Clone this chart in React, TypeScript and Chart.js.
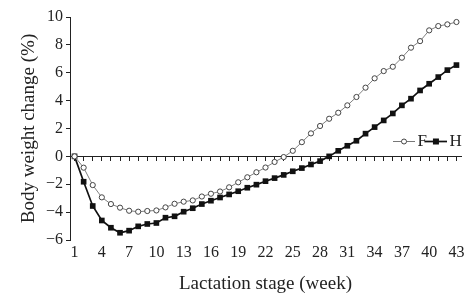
import React, { useEffect, useRef } from "react";
import { Chart, registerables } from "chart.js";

Chart.register(...registerables);

const weeks = [1, 2, 3, 4, 5, 6, 7, 8, 9, 10, 11, 12, 13, 14, 15, 16, 17, 18, 19, 20, 21, 22, 23, 24, 25, 26, 27, 28, 29, 30, 31, 32, 33, 34, 35, 36, 37, 38, 39, 40, 41, 42, 43];
const xTickLabels = ["1", "4", "7", "10", "13", "16", "19", "22", "25", "28", "31", "34", "37", "40", "43"];
const yTickValues = [-6, -4, -2, 0, 2, 4, 6, 8, 10];

const seriesF = [0, -0.81, -2.06, -2.94, -3.42, -3.68, -3.9, -3.97, -3.92, -3.88, -3.66, -3.4, -3.25, -3.16, -2.88, -2.68, -2.52, -2.22, -1.86, -1.5, -1.14, -0.8, -0.4, -0.05, 0.4, 1.02, 1.65, 2.18, 2.7, 3.13, 3.66, 4.26, 4.93, 5.6, 6.12, 6.43, 7.08, 7.8, 8.27, 9.04, 9.35, 9.47, 9.64];
const seriesH = [0, -1.82, -3.56, -4.6, -5.12, -5.48, -5.33, -5.02, -4.85, -4.78, -4.4, -4.3, -3.97, -3.72, -3.42, -3.18, -2.95, -2.73, -2.5, -2.25, -2.03, -1.78, -1.56, -1.33, -1.07, -0.84, -0.58, -0.34, 0, 0.4, 0.76, 1.12, 1.63, 2.1, 2.58, 3.08, 3.66, 4.14, 4.73, 5.21, 5.69, 6.19, 6.55];

const seriesNames = ["F", "H"];
const xTitle = "Lactation stage (week)";
const yTitle = "Body weight change (%)";

const FONT = "'Liberation Serif', 'Times New Roman', serif";
const TEXT = "#222";

function makeIcon(kind: string): HTMLCanvasElement {
  const c = document.createElement("canvas");
  c.width = 22;
  c.height = 9;
  const g = c.getContext("2d")!;
  g.beginPath();
  g.moveTo(0, 4.5);
  g.lineTo(22, 4.5);
  g.strokeStyle = kind === "F" ? "#777" : "#111";
  g.lineWidth = kind === "F" ? 1 : 1.7;
  g.stroke();
  if (kind === "F") {
    g.beginPath();
    g.arc(11, 4.5, 2.5, 0, Math.PI * 2);
    g.fillStyle = "#fff";
    g.fill();
    g.strokeStyle = "#444";
    g.lineWidth = 1;
    g.stroke();
  } else {
    g.fillStyle = "#111";
    g.fillRect(8, 1.5, 6, 6);
  }
  return c;
}

export default function App() {
  const ref = useRef<HTMLCanvasElement | null>(null);

  useEffect(() => {
    if (!ref.current) return;
    const icons = [makeIcon("F"), makeIcon("H")];

    const legendMover = {
      id: "legendMover",
      afterLayout(chart: any) {
        const lg = chart.legend;
        if (!lg) return;
        lg.left = 300;
        lg.right = 465.7;
        lg.top = 129;
        lg.bottom = 160;
        lg.width = lg.right - lg.left;
        lg.height = lg.bottom - lg.top;
        if (lg.lineWidths) lg.lineWidths = lg.lineWidths.map((w: number) => w + 0.01);
      },
    };

    const chart = new Chart(ref.current, {
      type: "line",
      data: {
        labels: weeks.map(String),
        datasets: [
          {
            label: seriesNames[0],
            data: seriesF,
            borderColor: "#808080",
            borderWidth: 1,
            pointStyle: "circle",
            pointRadius: 2.6,
            pointBackgroundColor: "#fff",
            pointBorderColor: "#444",
            pointBorderWidth: 1,
            tension: 0,
            xAxisID: "x",
            yAxisID: "y",
          },
          {
            label: seriesNames[1],
            data: seriesH,
            borderColor: "#111",
            borderWidth: 1.7,
            pointStyle: "rect",
            pointRadius: 4,
            pointBackgroundColor: "#111",
            pointBorderColor: "#111",
            pointBorderWidth: 0,
            tension: 0,
            xAxisID: "x",
            yAxisID: "y",
          },
        ],
      },
      options: {
        responsive: false,
        animation: false,
        layout: { padding: { left: 0, right: 13, top: 0, bottom: 0 } },
        plugins: {
          tooltip: { enabled: false },
          legend: {
            display: true,
            position: "top",
            align: "end",
            maxHeight: 17,
            labels: {
              usePointStyle: true,
              pointStyleWidth: 10,
              padding: 4,
              color: TEXT,
              font: { family: FONT, size: 17 },
              generateLabels: (ch: any) =>
                (Chart.defaults.plugins.legend.labels as any)
                  .generateLabels(ch)
                  .map((l: any, i: number) => ({ ...l, pointStyle: icons[i] })),
            },
          },
        },
        scales: {
          x: {
            type: "category",
            position: "bottom",
            offset: true,
            grid: { display: false, drawTicks: false },
            border: { display: false },
            ticks: {
              autoSkip: false,
              maxRotation: 0,
              padding: 3,
              color: TEXT,
              font: { family: FONT, size: 16 },
              callback: (_v: any, idx: number) => {
                const s = String(weeks[idx]);
                return xTickLabels.includes(s) ? s : "";
              },
            },
            title: {
              display: true,
              text: xTitle,
              color: TEXT,
              font: { family: FONT, size: 19 },
              padding: { top: 0, bottom: 1 },
            },
            afterFit: (s: any) => {
              s.height = 56;
            },
          },
          xZero: {
            type: "category",
            axis: "x",
            position: { y: 0 },
            offset: true,
            grid: { drawOnChartArea: false, drawTicks: true, tickLength: 4, color: "#222", lineWidth: 1 },
            border: { display: true, color: "#222", width: 1 },
            ticks: { display: false, autoSkip: false },
          },
          y: {
            type: "linear",
            position: "left",
            min: -6,
            max: 10,
            grid: { drawOnChartArea: false, drawTicks: true, tickLength: 4, color: "#222", lineWidth: 1 },
            border: { display: true, color: "#222", width: 1 },
            afterBuildTicks: (s: any) => {
              s.ticks = yTickValues.map((v) => ({ value: v }));
            },
            ticks: {
              padding: 3,
              color: TEXT,
              font: { family: FONT, size: 16 },
              callback: (v: any) => (Number(v) < 0 ? "\u2212" + Math.abs(Number(v)) : String(v)),
            },
            title: {
              display: true,
              text: yTitle,
              color: TEXT,
              font: { family: FONT, size: 19 },
              padding: { top: 18, bottom: 0 },
            },
            afterFit: (s: any) => {
              s.width = 70;
            },
          },
        },
      } as any,
      plugins: [legendMover],
    });

    return () => chart.destroy();
  }, []);

  return (
    <div style={{ position: "fixed", left: 0, top: 0, width: 474, height: 296, background: "#fff" }}>
      <canvas ref={ref} width={474} height={296} style={{ display: "block" }} />
    </div>
  );
}
